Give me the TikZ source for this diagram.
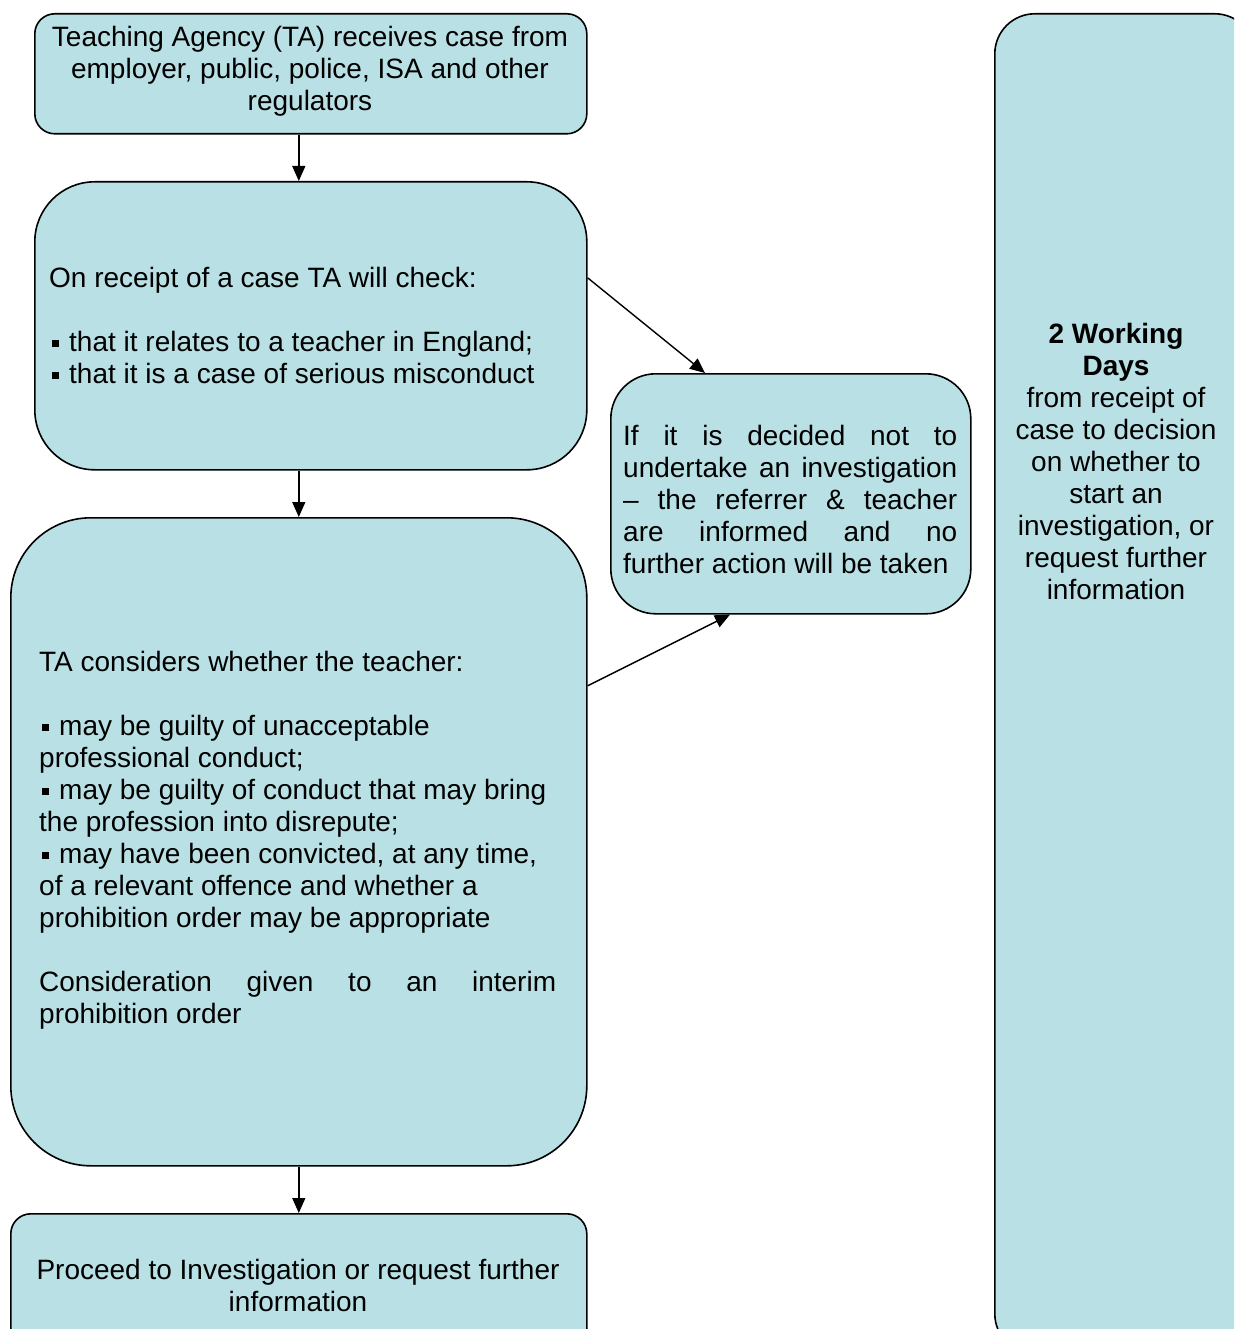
\documentclass[tikz,border=0pt]{standalone}
\usepackage{fontspec}
\setmainfont{Liberation Sans}
\usetikzlibrary{arrows.meta,calc}
\definecolor{boxfill}{RGB}{185,224,228}
\newcommand{\sqb}{\hspace{3pt}\raisebox{4pt}{\rule{7pt}{7pt}}\hspace{10pt}}
\begin{document}
\begin{tikzpicture}[x=1pt,y=-1pt,
  box/.style={draw=black, line width=1.6pt, fill=boxfill, inner sep=0pt, anchor=north west},
  arr/.style={line width=1.4pt, -{Triangle[width=13pt,length=15pt]}},
  txt/.style={inner sep=0pt, font=\fontsize{28}{32}\selectfont}]
\useasboundingbox (0,0) rectangle (1234,1329);
\clip (0,0) rectangle (1234,1329);
% boxes
\node[box, rounded corners=20pt, minimum width=552pt, minimum height=120pt] (b1) at (34,13) {};
\node[box, rounded corners=60pt, minimum width=552pt, minimum height=288pt] (b2) at (34,181) {};
\node[box, rounded corners=80pt, minimum width=576pt, minimum height=648pt] (b3) at (10,517) {};
\node[box, rounded corners=20pt, minimum width=576pt, minimum height=140pt] (b4) at (10,1213) {};
\node[box, rounded corners=45pt, minimum width=360pt, minimum height=240pt] (b5) at (610,373) {};
\node[box, rounded corners=40pt, minimum width=260pt, minimum height=1340pt] (b6) at (994,13) {};
% texts (anchor base = baseline of the last line)
\node[txt, align=center, anchor=base] (t1) at (310,111)
  {Teaching Agency (TA) receives case from\\employer, public, police, ISA and other\\regulators};
\node[txt, align=left, anchor=base west] (t2) at (49,383)
  {On receipt of a case TA will check:\\[32pt]
   \sqb that it relates to a teacher in England;\\
   \sqb that it is a case of serious misconduct};
\node[txt, align=left, anchor=base west] (t3) at (39,1023)
  {TA considers whether the teacher:\\[32pt]
   \sqb may be guilty of unacceptable\\
   professional conduct;\\
   \sqb may be guilty of conduct that may bring\\
   the profession into disrepute;\\
   \sqb may have been convicted, at any time,\\
   of a relevant offence and whether a\\
   prohibition order may be appropriate\\[32pt]
   \makebox[517pt][s]{Consideration given to an interim}\\
   prohibition order};
\node[txt, align=left, anchor=base west] (t5) at (623,573)
  {\makebox[334pt][s]{If it is decided not to}\\
   \makebox[334pt][s]{undertake an investigation}\\
   \makebox[334pt][s]{\textendash{} the referrer \& teacher}\\
   \makebox[334pt][s]{are informed and no}\\
   further action will be taken};
\node[txt, align=center, anchor=base] (t6) at (1116,599)
  {\textbf{2 Working}\\\textbf{Days}\\from receipt of\\case to decision\\on whether to\\start an\\investigation, or\\request further\\information};
\node[txt, align=center, anchor=base] (t4) at (298,1311)
  {Proceed to Investigation or request further\\information};
% connectors
\draw[arr] (b1.south -| b3.north) -- (b2.north -| b3.north);
\draw[arr] (b2.south -| b3.north) -- (b3.north);
\draw[arr] (b3.south) -- (b4.north);
\draw[arr] ($(b2.east)+(0,-48)$) -- ($(b5.north west)+(95,0)$);
\draw[arr] ($(b3.east)+(0,-156)$) -- ($(b5.south west)+(120,0)$);
\end{tikzpicture}
\end{document}
